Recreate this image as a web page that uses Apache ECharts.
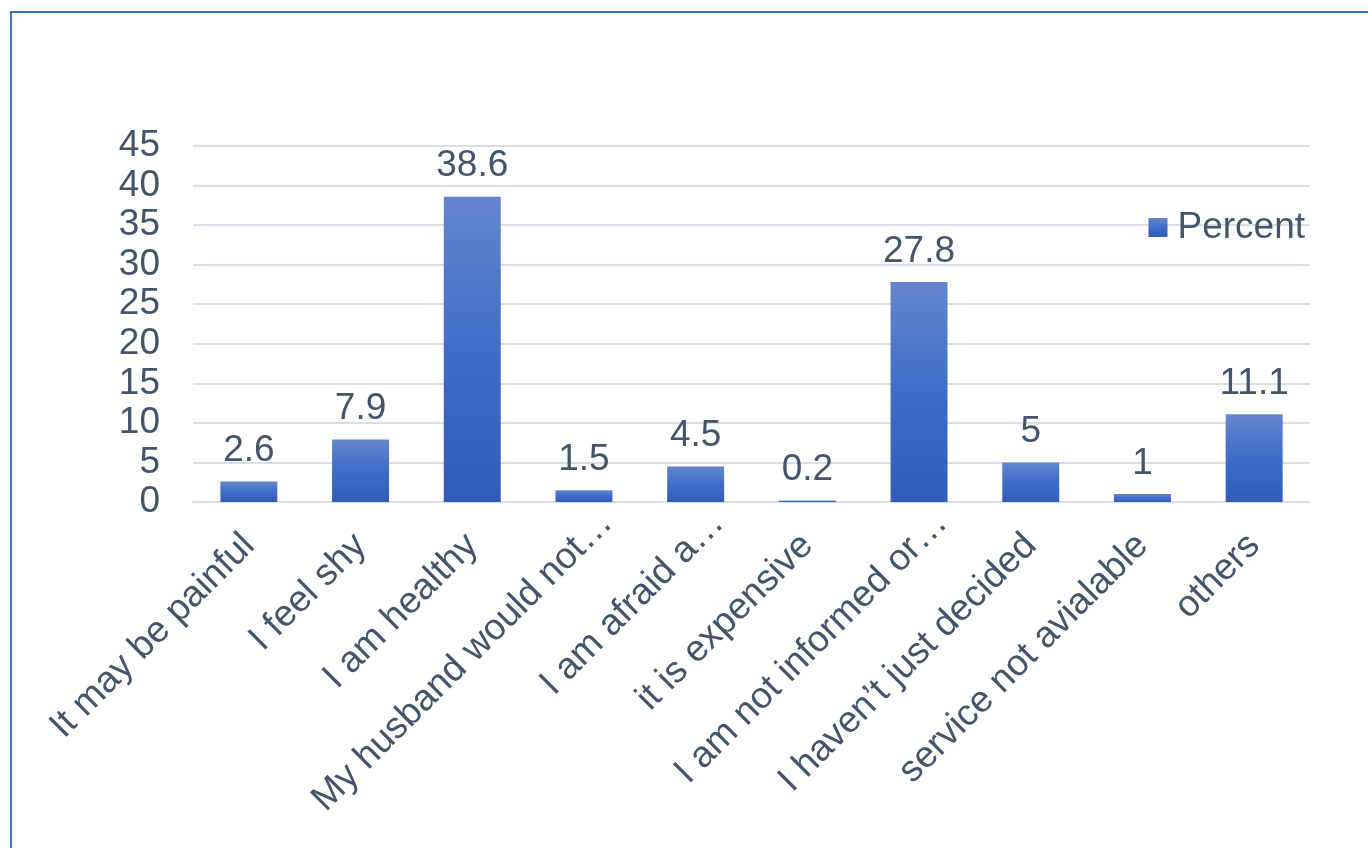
<!DOCTYPE html>
<html>
<head>
<meta charset="utf-8">
<script src="https://cdn.jsdelivr.net/npm/echarts@6/dist/echarts.min.js"></script>
<style>
html,body{margin:0;padding:0;background:#fff;}
#c{width:1368px;height:848px;}
</style>
</head>
<body>
<div id="c"></div>
<script>
const categories = ["It may be painful","I feel shy","I am healthy","My husband would not\u2026","I am afraid a\u2026","it is expensive","I am not informed or\u2026","I haven\u2019t just decided","service not avialable","others"];
const percentValues = [2.6, 7.9, 38.6, 1.5, 4.5, 0.2, 27.8, 5, 1, 11.1];
const seriesName = "Percent";
const yTicks = {min: 0, max: 45, interval: 5};

const textColor = "#44546A";
const font = "Liberation Sans, Arial, sans-serif";
const fs = 37;
const grad = new echarts.graphic.LinearGradient(0, 0, 0, 1, [
  {offset: 0, color: "#6586CD"},
  {offset: 0.5, color: "#3F6DC7"},
  {offset: 1, color: "#2E5CB6"}
]);

// truncated labels sit a little further along the diagonal in the reference
const xData = categories.map(c => c.endsWith('\u2026')
  ? {value: c, textStyle: {padding: [0, -32, 0, 0]}}
  : c);

const chart = echarts.init(document.getElementById('c'), null, {renderer: 'canvas'});
chart.setOption({
  animation: false,
  backgroundColor: "#fff",
  textStyle: {fontFamily: font},
  graphic: [{
    type: 'rect',
    shape: {x: 11, y: 12, width: 1400, height: 900},
    style: {fill: 'none', stroke: '#4472C4', lineWidth: 2.2},
    z: 100
  }],
  legend: {
    data: [seriesName],
    right: 58,
    top: 204,
    itemWidth: 19,
    itemHeight: 19,
    itemGap: 10,
    icon: 'rect',
    textStyle: {fontSize: fs, color: textColor, fontFamily: font, padding: [0, 0, 0, 5]}
  },
  grid: {left: 193, right: 58, top: 146, bottom: 346, containLabel: false},
  xAxis: {
    type: 'category',
    data: xData,
    axisLine: {lineStyle: {color: '#D9DDE5', width: 2}},
    axisTick: {show: false},
    axisLabel: {
      rotate: 45,
      interval: 0,
      margin: 38,
      fontSize: fs,
      color: textColor,
      fontFamily: font
    }
  },
  yAxis: {
    type: 'value',
    min: yTicks.min,
    max: yTicks.max,
    interval: yTicks.interval,
    axisLine: {show: false},
    axisTick: {show: false},
    splitLine: {lineStyle: {color: '#D9DDE5', width: 2}},
    axisLabel: {fontSize: fs, color: textColor, fontFamily: font, margin: 33}
  },
  series: [{
    name: seriesName,
    type: 'bar',
    data: percentValues,
    barWidth: '51%',
    itemStyle: {color: grad},
    label: {
      show: true,
      position: 'top',
      distance: 12,
      fontSize: fs,
      color: textColor,
      fontFamily: font
    }
  }]
});
</script>
</body>
</html>
